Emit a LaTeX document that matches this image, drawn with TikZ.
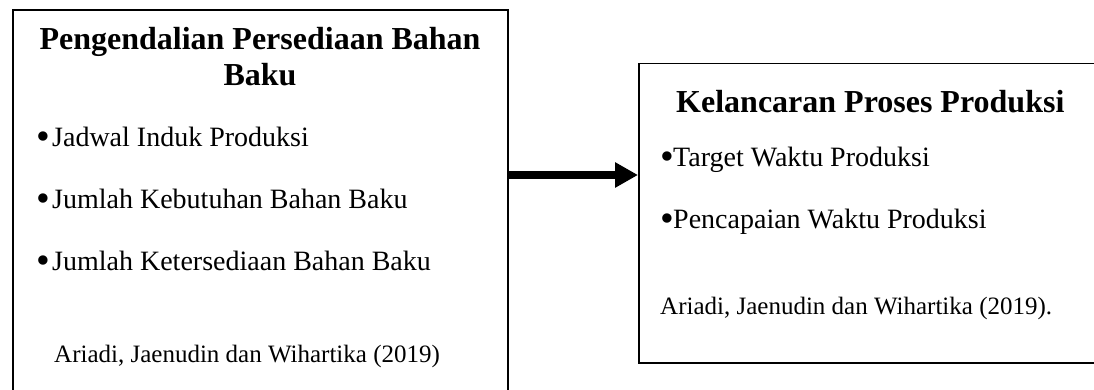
\documentclass[tikz,border=0pt]{standalone}
\usepackage{fontspec}
\setmainfont{Liberation Serif}
\usetikzlibrary{arrows.meta}
\newcommand{\bigbul}{\raisebox{-3pt}{\scalebox{1.4}{•}}}
\begin{document}
\begin{tikzpicture}[x=1pt,y=-1pt,
  boxstyle/.style={draw=black,line width=1.6pt,rectangle,inner sep=0pt,anchor=north west},
  titlestyle/.style={font=\bfseries\fontsize{32}{36}\selectfont,inner sep=0pt,align=center},
  itemstyle/.style={font=\fontsize{28}{34}\selectfont,inner sep=0pt,anchor=base west},
  srcstyle/.style={font=\fontsize{25}{30}\selectfont,inner sep=0pt,anchor=base west},
  bigarrow/.style={line width=8pt,-{Triangle[length=23pt,width=24pt]}}]
\useasboundingbox (0,0) rectangle (1094,389);
\clip (0,0) rectangle (1094,389);
\node[boxstyle,minimum width=495pt,minimum height=420pt] (leftbox) at (12,9) {};
\node[boxstyle,minimum width=500pt,minimum height=299.5pt] (rightbox) at (638,62.5) {};
\node[titlestyle,anchor=base] (lefttitle) at (260,85) {Pengendalian Persediaan Bahan\\Baku};
\node[itemstyle] (l1) at (36,146) {\makebox[16pt][l]{\bigbul}Jadwal Induk Produksi};
\node[itemstyle] (l2) at (36,208) {\makebox[16pt][l]{\bigbul}Jumlah Kebutuhan Bahan Baku};
\node[itemstyle] (l3) at (36,270) {\makebox[16pt][l]{\bigbul}Jumlah Ketersediaan Bahan Baku};
\node[srcstyle] (lsrc) at (54,362) {Ariadi, Jaenudin dan Wihartika (2019)};
\node[titlestyle,anchor=base west] (righttitle) at (676,112) {Kelancaran Proses Produksi};
\node[itemstyle] (r1) at (660,166) {\makebox[13pt][l]{\bigbul}Target Waktu Produksi};
\node[itemstyle] (r2) at (660,228) {\makebox[13pt][l]{\bigbul}Pencapaian Waktu Produksi};
\node[srcstyle] (rsrc) at (660,314) {Ariadi, Jaenudin dan Wihartika (2019).};
\coordinate (ay) at (0,175);
\draw[bigarrow] (leftbox.east |- ay) -- (rightbox.west |- ay);
\end{tikzpicture}
\end{document}
